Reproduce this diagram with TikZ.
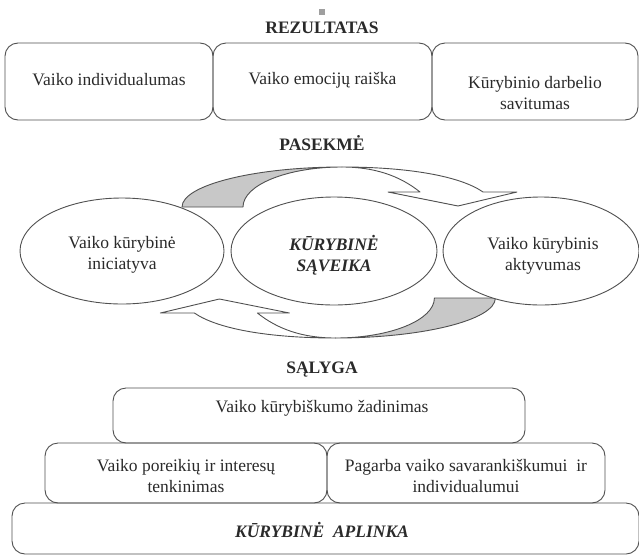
\documentclass[tikz,border=0pt]{standalone}
\usepackage{fontspec}
\setmainfont{Liberation Serif}
\usetikzlibrary{shapes.geometric}
\definecolor{ln}{HTML}{505050}
\definecolor{tx}{HTML}{2A2A2A}
\definecolor{shade}{HTML}{C8C8C8}
\begin{document}
\begin{tikzpicture}[x=1pt,y=-1pt,
  rbox/.style={draw=ln, line width=0.9pt, rounded corners=13pt, inner sep=0pt},
  ell/.style={ellipse, draw=ln, line width=0.9pt, fill=white, inner sep=0pt},
  txt/.style={text=tx, align=center, font=\fontsize{17.5}{21}\selectfont, inner sep=0pt},
  ttl/.style={text=tx, font=\fontsize{17.5}{21}\selectfont\bfseries, inner sep=0pt},
  bit/.style={text=tx, align=center, font=\fontsize{17.5}{21}\selectfont\bfseries\itshape, inner sep=0pt},
  curvearrow/.pic={
    \filldraw[fill=shade, draw=ln, line width=0.9pt, line join=round]
      (182,207) -- (243,207) .. controls (243,185) and (287,167) .. (342,167)
      .. controls (255,167) and (182,185) .. (182,207) -- cycle;
    \filldraw[fill=white, draw=ln, line width=0.9pt, line join=round]
      (342,167) .. controls (408,167) and (460,176) .. (483,192) -- (517,192) -- (458,206)
      -- (388,192) -- (420,192) .. controls (400,176) and (375,167) .. (342,167) -- cycle;
  }]
\useasboundingbox (0,0) rectangle (639,557);

% title marker
\node[fill=gray!75, minimum size=6pt, inner sep=0pt] (mk) at (322,12) {};
\node[ttl] (rez) at (322,28) {REZULTATAS};

% top boxes
\node[rbox, minimum width=208pt, minimum height=77pt] (r1) at (109,81.5) {};
\node[rbox, minimum width=219pt, minimum height=77pt] (r2) at (322.5,81.5) {};
\node[rbox, minimum width=206pt, minimum height=77pt] (r3) at (535,81.5) {};
\node[txt] (r1t) at (109,80) {Vaiko individualumas};
\node[txt] (r2t) at (322.5,80) {Vaiko emocijų raiška};
\node[txt] (r3t) at (535,93) {Kūrybinio darbelio\\savitumas};

\node[ttl] (pas) at (322,143) {PASEKMĖ};

% circular arrows
\pic (topar) at (0,0) {curvearrow};
\pic[rotate=180] (botar) at (677.4,505) {curvearrow};

% ellipses
\node[ell, minimum width=204pt, minimum height=106pt] (e1) at (122,251) {};
\node[ell, minimum width=206pt, minimum height=108pt] (e2) at (334,251) {};
\node[ell, minimum width=196pt, minimum height=108pt] (e3) at (541,251) {};
\node[txt] (e1t) at (122,255) {Vaiko kūrybinė\\iniciatyva};
\node[bit] (e2t) at (334,255) {KŪRYBINĖ\\SĄVEIKA};
\node[txt] (e3t) at (543,256) {Vaiko kūrybinis\\aktyvumas};

\node[ttl] (sal) at (322,370) {SĄLYGA};

% bottom boxes
\node[rbox, minimum width=412pt, minimum height=55pt] (b1) at (319,415.5) {};
\node[txt] (b1t) at (322,408) {Vaiko kūrybiškumo žadinimas};
\node[rbox, minimum width=282pt, minimum height=60pt] (b2) at (186,473) {};
\node[txt] (b2t) at (186,476) {Vaiko poreikių ir interesų\\tenkinimas};
\node[rbox, minimum width=278pt, minimum height=60pt] (b3) at (466,473) {};
\node[txt] (b3t) at (466,476) {Pagarba vaiko savarankiškumui~ ir\\individualumui};
\node[rbox, minimum width=627pt, minimum height=51pt] (b4) at (325.5,528.5) {};
\node[bit] (b4t) at (322,530) {KŪRYBINĖ~ APLINKA};
\end{tikzpicture}
\end{document}
